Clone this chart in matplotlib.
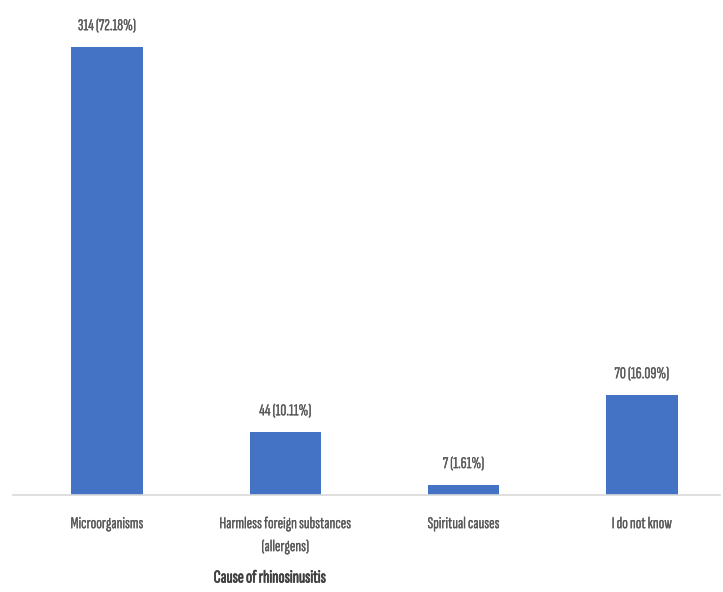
import matplotlib
matplotlib.use("Agg")
import matplotlib.pyplot as plt
import matplotlib.patheffects as pe

categories = ["Microorganisms", "Harmless foreign substances\n(allergens)", "Spiritual causes", "I do not know"]
counts = [314, 44, 7, 70]
percents = ["72.18%", "10.11%", "1.61%", "16.09%"]
xlabel = "Cause of rhinosinusitis"

FONT = ['Sofia Sans Extra Condensed', 'Barlow Condensed', 'DejaVu Sans']
plt.rcParams['font.family'] = FONT

W, H = 723, 592
fig = plt.figure(figsize=(W/100, H/100), dpi=100)
ax = fig.add_axes([13/W, 1-495/H, (720-13)/W, (495-20)/H])

TXT = "#595959"
thick = [pe.withStroke(linewidth=0.15, foreground=TXT)]

x = list(range(len(categories)))
bars = ax.bar(x, counts, width=0.40, color="#4472C4")
for xi, c, p in zip(x, counts, percents):
    ax.annotate(f"{c} ({p})", (xi, c), xytext=(0, 10), textcoords="offset points",
                ha="center", va="bottom", fontsize=12, color=TXT, path_effects=thick)

ax.set_xlim(-0.527, 3.438)
ax.set_ylim(0, 333)
ax.set_yticks([])
for s in ["top", "right", "left"]:
    ax.spines[s].set_visible(False)
ax.spines["bottom"].set_color("#D9D9D9")
ax.spines["bottom"].set_linewidth(1.2)
ax.set_xticks(x)
ax.set_xticklabels(categories, fontsize=12, color=TXT, linespacing=1.75)
for t in ax.get_xticklabels():
    t.set_path_effects(thick)
ax.tick_params(axis="x", length=0, pad=16)

fig.text(270/W, 1-578/H, xlabel, ha="center", va="center", fontsize=13,
         color="#404040", fontweight="bold",
         path_effects=[pe.withStroke(linewidth=0.5, foreground="#404040")])

fig.savefig("out.png", dpi=100)
